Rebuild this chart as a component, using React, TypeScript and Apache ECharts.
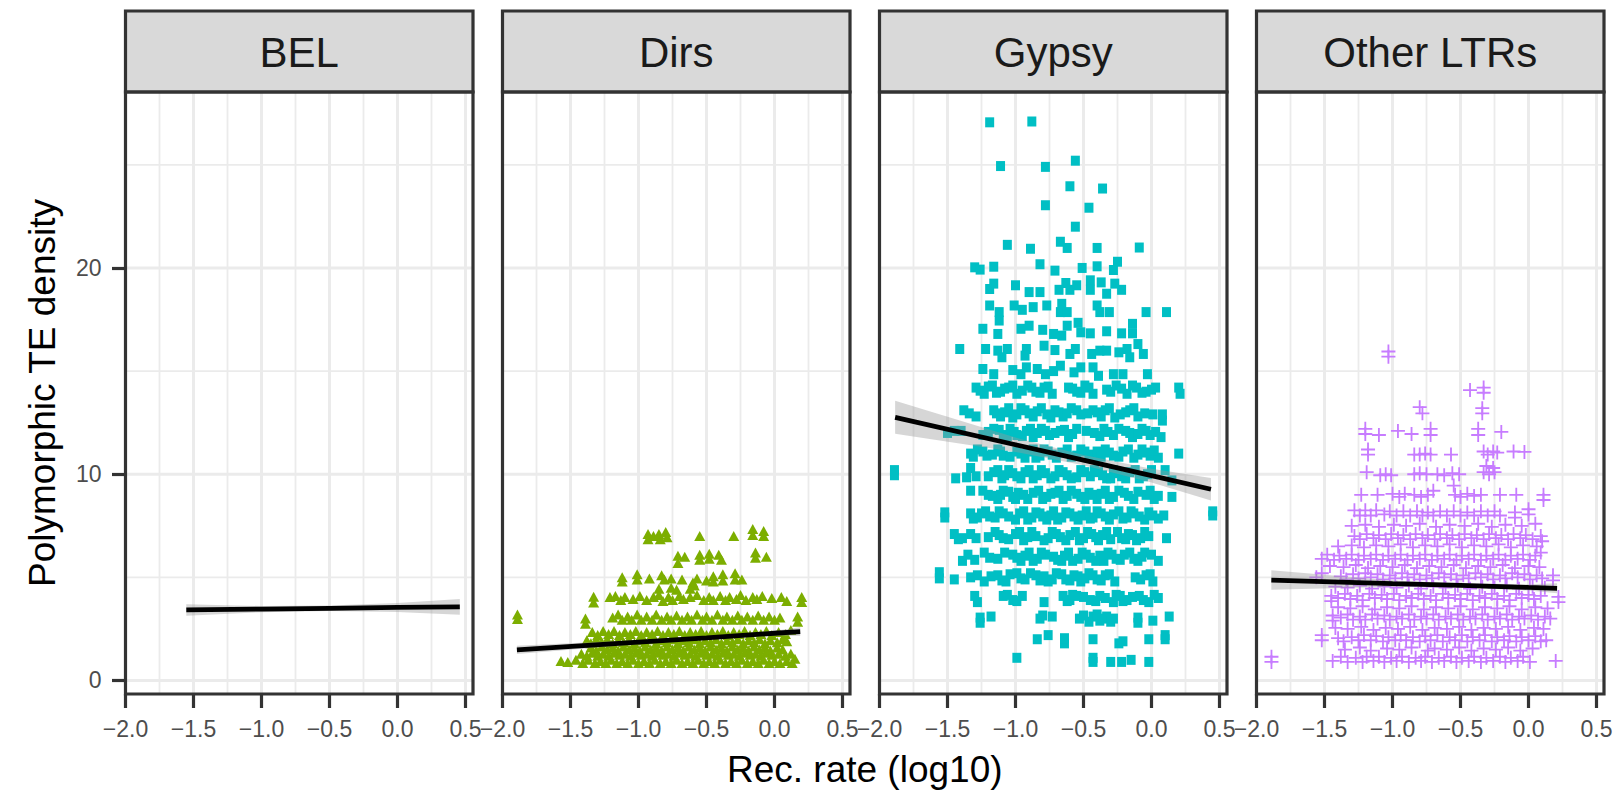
import React, { useEffect, useRef } from 'react';
import * as echarts from 'echarts';

const FONT = '"Liberation Sans", Arial, Helvetica, sans-serif';

const panelNames = ['BEL', 'Dirs', 'Gypsy', 'Other LTRs'];
const xMajor = [-2, -1.5, -1, -0.5, 0, 0.5];
const xMinor = [-1.75, -1.25, -0.75, -0.25, 0.25];
const yMajor = [0, 10, 20];
const yMinor = [5, 15, 25];
const xRange = [-2.0, 0.555];
const yRange = [-0.655, 28.53];

// fitted line rows: [x, fit, lower, upper]
const belFit = [[-1.553, 3.42, 3.14, 3.70], [-1.0, 3.46, 3.31, 3.61], [-0.5, 3.50, 3.37, 3.63], [0.0, 3.54, 3.32, 3.76], [0.458, 3.57, 3.19, 3.95]];
const dirsFit = [[-1.894, 1.48, 1.28, 1.68], [-1.0, 1.86, 1.76, 1.96], [-0.5, 2.07, 1.99, 2.15], [0.0, 2.29, 2.17, 2.41], [0.189, 2.37, 2.16, 2.58]];
const gypsyFit = [[-1.885, 12.76, 11.96, 13.56], [-1.0, 11.43, 11.08, 11.78], [-0.5, 10.68, 10.43, 10.93], [0.0, 9.93, 9.6, 10.26], [0.437, 9.27, 8.72, 9.82]];
const otherFit = [[-1.891, 4.87, 4.4, 5.34], [-1.0, 4.70, 4.55, 4.85], [-0.5, 4.61, 4.51, 4.71], [0.0, 4.51, 4.36, 4.66], [0.21, 4.47, 4.23, 4.71]];

const belPoints: number[][] = [];

const dirsPoints = [
  [-1.89, 3.2], [-1.89, 2.98],
  [-0.93, 7.1], [-0.93, 6.85], [-0.89, 7.0], [-0.85, 7.1], [-0.84, 6.85], [-0.8, 7.2], [-0.79, 6.95], [-0.55, 7.0], [-0.3, 7.0], [-0.16, 7.35], [-0.16, 7.05], [-0.08, 7.25], [-0.08, 7.0],
  [-0.71, 6.05], [-0.71, 5.7], [-0.66, 6.0], [-0.55, 6.1], [-0.55, 5.85], [-0.48, 6.15], [-0.48, 5.9], [-0.41, 6.1], [-0.39, 5.85], [-0.14, 6.2], [-0.14, 5.95], [-0.06, 6.0],
  [-1.12, 5.0], [-1.12, 4.8], [-1.01, 5.15], [-1.01, 4.9], [-0.92, 4.95], [-0.83, 5.1], [-0.81, 4.9], [-0.76, 4.95], [-0.68, 4.9], [-0.6, 4.75], [-0.59, 4.6], [-0.57, 4.95], [-0.5, 4.85], [-0.45, 5.05], [-0.45, 4.8], [-0.38, 5.15], [-0.38, 4.85], [-0.29, 5.2], [-0.29, 4.9], [-0.24, 4.9],
  [-0.85, 4.45], [-0.76, 4.5], [-0.72, 4.4], [-0.62, 4.45],
  [-1.33, 4.06], [-1.33, 3.78], [-1.21, 4.05], [-1.17, 4.1], [-1.13, 3.9], [-1.1, 4.05], [-1.04, 3.95], [-0.99, 4.1], [-0.94, 3.9], [-0.89, 4.05], [-0.85, 4.15], [-0.82, 3.85], [-0.78, 4.05], [-0.75, 3.9], [-0.7, 4.1], [-0.67, 3.95], [-0.62, 4.05], [-0.57, 4.15], [-0.52, 3.9], [-0.48, 4.05], [-0.45, 3.9], [-0.4, 4.1], [-0.36, 3.9], [-0.33, 4.05], [-0.28, 3.95], [-0.25, 4.15], [-0.21, 3.9], [-0.16, 4.05], [-0.13, 3.95], [-0.09, 4.1], [-0.02, 4.0], [0.05, 4.05], [0.09, 3.85], [0.2, 4.05], [0.2, 3.8],
  [-1.39, 3.0], [-1.39, 2.75], [-1.19, 3.05], [-1.15, 3.2], [-1.12, 2.95], [-1.08, 3.1], [-1.05, 2.95], [-1.01, 3.2], [-0.98, 2.95], [-0.94, 3.1], [-0.9, 2.95], [-0.87, 3.2], [-0.83, 2.95], [-0.79, 3.1], [-0.76, 2.95], [-0.72, 3.15], [-0.68, 2.95], [-0.64, 3.1], [-0.61, 2.95], [-0.57, 3.2], [-0.53, 2.95], [-0.5, 3.1], [-0.46, 2.95], [-0.42, 3.2], [-0.38, 2.95], [-0.35, 3.1], [-0.31, 2.95], [-0.27, 3.15], [-0.24, 2.95], [-0.2, 3.1], [-0.16, 2.95], [-0.12, 3.15], [-0.08, 2.95], [-0.04, 3.1], [0.0, 2.95], [0.04, 3.05], [0.17, 3.1], [0.17, 2.85],
  [-1.34, 2.35], [-1.3, 2.2], [-1.26, 2.4], [-1.22, 2.25], [-1.18, 2.4], [-1.14, 2.2], [-1.1, 2.35], [-1.06, 2.25], [-1.02, 2.4], [-0.98, 2.2], [-0.94, 2.35], [-0.9, 2.25], [-0.86, 2.4], [-0.82, 2.2], [-0.78, 2.35], [-0.74, 2.25], [-0.7, 2.4], [-0.66, 2.2], [-0.62, 2.35], [-0.58, 2.25], [-0.54, 2.4], [-0.5, 2.2], [-0.46, 2.35], [-0.42, 2.25], [-0.38, 2.4], [-0.34, 2.2], [-0.3, 2.35], [-0.26, 2.25], [-0.22, 2.4], [-0.18, 2.2], [-0.14, 2.35], [-0.1, 2.25], [-0.06, 2.4], [-0.02, 2.2], [0.03, 2.35], [0.08, 2.25], [0.12, 2.45],
  [-1.38, 1.95], [-1.35, 1.8], [-1.31, 2.0], [-1.27, 1.85], [-1.23, 2.0], [-1.19, 1.8], [-1.15, 1.95], [-1.11, 1.85], [-1.07, 2.0], [-1.03, 1.8], [-0.99, 1.95], [-0.95, 1.85], [-0.91, 2.0], [-0.87, 1.8], [-0.83, 1.95], [-0.79, 1.85], [-0.75, 2.0], [-0.71, 1.8], [-0.67, 1.95], [-0.63, 1.85], [-0.59, 2.0], [-0.55, 1.8], [-0.51, 1.95], [-0.47, 1.85], [-0.43, 2.0], [-0.39, 1.8], [-0.35, 1.95], [-0.31, 1.85], [-0.27, 2.0], [-0.23, 1.8], [-0.19, 1.95], [-0.15, 1.85], [-0.11, 2.0], [-0.07, 1.8], [-0.03, 1.95], [0.02, 1.85], [0.06, 2.0], [0.09, 1.9],
  [-1.35, 1.6], [-1.31, 1.45], [-1.27, 1.65], [-1.23, 1.5], [-1.19, 1.6], [-1.15, 1.45], [-1.11, 1.65], [-1.07, 1.5], [-1.03, 1.6], [-0.99, 1.45], [-0.95, 1.65], [-0.91, 1.5], [-0.87, 1.6], [-0.83, 1.45], [-0.79, 1.65], [-0.75, 1.5], [-0.71, 1.6], [-0.67, 1.45], [-0.63, 1.65], [-0.59, 1.5], [-0.55, 1.6], [-0.51, 1.45], [-0.47, 1.65], [-0.43, 1.5], [-0.39, 1.6], [-0.35, 1.45], [-0.31, 1.65], [-0.27, 1.5], [-0.23, 1.6], [-0.19, 1.45], [-0.15, 1.65], [-0.11, 1.5], [-0.07, 1.6], [-0.03, 1.45], [0.02, 1.6], [0.06, 1.5],
  [-1.42, 1.3], [-1.38, 1.2], [-1.34, 1.35], [-1.3, 1.2], [-1.26, 1.3], [-1.22, 1.2], [-1.18, 1.35], [-1.14, 1.25], [-1.1, 1.3], [-1.06, 1.2], [-1.02, 1.35], [-0.98, 1.25], [-0.94, 1.3], [-0.9, 1.2], [-0.86, 1.35], [-0.82, 1.25], [-0.78, 1.3], [-0.74, 1.2], [-0.7, 1.35], [-0.66, 1.25], [-0.62, 1.3], [-0.58, 1.2], [-0.54, 1.35], [-0.5, 1.25], [-0.46, 1.3], [-0.42, 1.2], [-0.38, 1.35], [-0.34, 1.25], [-0.3, 1.3], [-0.26, 1.2], [-0.22, 1.35], [-0.18, 1.25], [-0.14, 1.3], [-0.1, 1.2], [-0.06, 1.35], [-0.02, 1.25], [0.03, 1.3], [0.08, 1.2], [0.12, 1.3],
  [-1.57, 0.95], [-1.52, 0.9], [-1.46, 1.0], [-1.41, 0.85], [-1.37, 1.0], [-1.32, 0.85], [-1.28, 0.95], [-1.24, 0.85], [-1.2, 1.0], [-1.16, 0.85], [-1.12, 0.95], [-1.08, 0.85], [-1.04, 1.0], [-1.0, 0.85], [-0.96, 0.95], [-0.92, 0.85], [-0.88, 1.0], [-0.84, 0.85], [-0.8, 0.95], [-0.76, 0.85], [-0.72, 1.0], [-0.68, 0.85], [-0.64, 0.95], [-0.6, 0.85], [-0.56, 1.0], [-0.52, 0.85], [-0.48, 0.95], [-0.44, 0.85], [-0.4, 1.0], [-0.36, 0.85], [-0.32, 0.95], [-0.28, 0.85], [-0.24, 1.0], [-0.2, 0.85], [-0.16, 0.95], [-0.12, 0.85], [-0.08, 1.0], [-0.04, 0.85], [0.0, 0.95], [0.04, 0.85], [0.09, 0.95], [0.13, 0.85], [0.15, 1.05],
];

const gypsyPoints = [
  [-1.19, 27.06], [-0.88, 27.1], [-1.11, 24.94], [-0.78, 24.9], [-0.56, 25.2], [-0.6, 23.96], [-0.36, 23.85], [-0.78, 23.04], [-0.46, 22.92], [-0.56, 22.0],
  [-1.06, 21.12], [-0.89, 20.93], [-0.67, 21.27], [-0.62, 20.97], [-0.4, 20.97], [-0.09, 20.99],
  [-1.3, 20.03], [-1.26, 19.92], [-1.16, 20.06], [-0.82, 20.18], [-0.71, 19.87], [-0.51, 20.0], [-0.4, 20.08], [-0.28, 19.9], [-0.25, 20.3],
  [-1.19, 18.98], [-1.16, 19.24], [-1.0, 19.16], [-0.9, 18.83], [-0.82, 18.83], [-0.68, 18.94], [-0.63, 19.27], [-0.6, 18.94], [-0.55, 19.16], [-0.45, 19.4], [-0.45, 18.94], [-0.37, 19.3], [-0.33, 18.75], [-0.27, 19.24], [-0.22, 18.94],
  [-1.19, 18.18], [-1.12, 17.86], [-1.01, 18.18], [-0.95, 17.97], [-0.87, 18.1], [-0.77, 18.18], [-0.66, 18.26], [-0.67, 17.86], [-0.62, 17.86], [-0.4, 18.18], [-0.38, 17.86], [-0.31, 17.86], [-0.04, 17.86], [0.11, 17.86],
  [-1.12, 17.45], [-1.24, 17.05], [-1.13, 16.8], [-0.96, 17.05], [-0.9, 17.2], [-0.8, 17.0], [-0.72, 16.8], [-0.66, 16.72], [-0.62, 17.2], [-0.54, 17.34], [-0.52, 16.88], [-0.45, 16.83], [-0.33, 16.93], [-0.22, 16.83], [-0.14, 17.29], [-0.14, 16.83],
  [-1.41, 16.07], [-1.22, 16.07], [-1.13, 15.99], [-1.06, 16.07], [-1.1, 15.67], [-0.92, 16.07], [-0.93, 15.75], [-0.79, 16.23], [-0.71, 16.02], [-0.6, 15.83], [-0.56, 16.07], [-0.44, 15.83], [-0.38, 15.99], [-0.33, 15.99], [-0.24, 15.91], [-0.18, 16.07], [-0.16, 15.67], [-0.1, 16.31], [-0.06, 15.83],
  [-1.24, 15.1], [-1.16, 14.85], [-1.02, 15.05], [-0.96, 14.85], [-0.92, 15.18], [-0.84, 15.1], [-0.78, 14.85], [-0.72, 15.0], [-0.67, 15.26], [-0.57, 14.94], [-0.52, 15.18], [-0.43, 15.18], [-0.39, 14.77], [-0.28, 14.85], [-0.21, 14.85], [-0.03, 14.85],
  [-1.29, 14.2], [-1.23, 13.9], [-1.17, 14.3], [-1.11, 14.0], [-1.05, 14.2], [-0.99, 13.9], [-0.91, 14.3], [-0.85, 14.0], [-0.79, 14.2], [-0.73, 13.9], [-0.61, 14.2], [-0.55, 14.0], [-0.49, 14.3], [-0.43, 13.9], [-0.33, 14.1], [-0.26, 14.3], [-0.18, 13.9], [-0.11, 14.2], [-0.04, 14.0], [0.03, 14.2], [0.2, 14.2], [0.21, 13.9],
  [-1.26, 14.05], [-1.2, 14.25], [-1.14, 13.95], [-1.08, 14.15], [-1.02, 14.3], [-0.95, 14.05], [-0.88, 14.2], [-0.82, 13.95], [-0.76, 14.25], [-0.58, 14.15], [-0.52, 13.95], [-0.46, 14.2], [-0.3, 14.0], [-0.22, 14.15], [-0.14, 14.3], [-0.07, 13.95], [0.0, 14.1],
  [-1.38, 13.1], [-1.29, 12.8], [-1.16, 13.1], [-1.11, 12.8], [-1.05, 13.2], [-0.99, 12.9], [-0.93, 13.1], [-0.87, 12.8], [-0.81, 13.2], [-0.77, 12.9], [-0.71, 13.1], [-0.65, 12.8], [-0.59, 13.2], [-0.52, 12.9], [-0.43, 13.1], [-0.37, 12.8], [-0.31, 13.2], [-0.23, 12.9], [-0.16, 13.1], [-0.1, 12.8], [0.01, 12.9], [0.08, 12.6], [0.08, 12.9],
  [-1.34, 12.95], [-1.14, 12.95], [-1.08, 13.0], [-1.02, 12.75], [-0.96, 13.2], [-0.9, 12.95], [-0.84, 13.05], [-0.74, 12.75], [-0.68, 13.0], [-0.62, 12.95], [-0.55, 13.1], [-0.47, 12.95], [-0.4, 13.0], [-0.34, 13.1], [-0.27, 12.75], [-0.19, 13.0], [-0.13, 13.2], [-0.05, 12.95],
  [-1.5, 12.0], [-1.4, 12.1], [-1.24, 11.9], [-1.16, 12.2], [-1.09, 11.9], [-1.04, 12.2], [-0.99, 11.9], [-0.92, 12.1], [-0.87, 11.8], [-0.81, 12.2], [-0.75, 11.9], [-0.67, 12.1], [-0.61, 11.8], [-0.55, 12.2], [-0.42, 12.0], [-0.35, 12.2], [-0.28, 11.9], [-0.19, 12.1], [-0.14, 11.8], [-0.07, 12.2], [-0.01, 11.9], [0.07, 11.8],
  [-1.45, 12.1], [-1.2, 12.05], [-1.12, 12.15], [-1.06, 11.85], [-1.01, 12.05], [-0.95, 11.85], [-0.89, 12.2], [-0.84, 12.0], [-0.78, 12.1], [-0.71, 12.0], [-0.64, 12.15], [-0.58, 11.95], [-0.48, 12.1], [-0.38, 11.85], [-0.32, 12.05], [-0.24, 12.2], [-0.16, 12.0], [-0.1, 11.95], [-0.04, 12.1], [0.03, 12.05],
  [-1.33, 11.0], [-1.28, 11.2], [-1.21, 10.9], [-1.13, 11.2], [-1.09, 10.9], [-0.99, 11.1], [-0.93, 10.8], [-0.87, 11.2], [-0.82, 10.9], [-0.76, 11.1], [-0.7, 10.8], [-0.62, 11.2], [-0.55, 10.9], [-0.49, 11.1], [-0.43, 10.8], [-0.34, 11.2], [-0.28, 10.9], [-0.21, 11.1], [-0.13, 10.8], [-0.07, 11.2], [-0.01, 10.9], [0.05, 10.8], [0.2, 11.0],
  [-1.31, 10.85], [-1.24, 11.1], [-1.17, 10.95], [-1.11, 11.1], [-1.04, 10.85], [-0.96, 11.0], [-0.9, 11.1], [-0.85, 10.8], [-0.79, 11.2], [-0.73, 10.95], [-0.66, 11.05], [-0.59, 10.85], [-0.52, 11.2], [-0.46, 10.95], [-0.4, 11.1], [-0.37, 10.85], [-0.31, 11.05], [-0.24, 10.85], [-0.17, 11.2], [-0.1, 10.95], [-0.04, 11.05], [0.02, 11.15],
  [-1.89, 10.2], [-1.89, 9.95], [-1.44, 9.8], [-1.33, 10.3], [-1.29, 9.9], [-1.16, 10.1], [-1.1, 9.8], [-1.05, 10.2], [-0.99, 9.9], [-0.93, 10.1], [-0.87, 9.8], [-0.81, 10.2], [-0.71, 9.9], [-0.65, 10.1], [-0.59, 9.8], [-0.52, 10.2], [-0.45, 9.9], [-0.39, 10.1], [-0.33, 9.8], [-0.28, 10.2], [-0.22, 9.9], [-0.16, 10.1], [-0.09, 9.8], [-0.03, 10.0], [0.1, 10.2], [0.15, 9.7],
  [-1.36, 9.85], [-1.2, 9.9], [-1.13, 10.2], [-1.08, 9.95], [-1.02, 10.05], [-0.96, 9.8], [-0.9, 10.2], [-0.84, 9.95], [-0.78, 10.05], [-0.74, 9.8], [-0.68, 10.2], [-0.62, 9.95], [-0.55, 9.85], [-0.49, 10.1], [-0.42, 10.2], [-0.36, 9.95], [-0.3, 9.8], [-0.25, 10.05], [-0.19, 9.8], [-0.12, 10.2], [-0.06, 9.9], [0.0, 10.2],
  [-1.33, 9.2], [-1.2, 9.0], [-1.13, 8.8], [-1.09, 9.2], [-1.02, 8.9], [-0.98, 9.1], [-0.91, 8.8], [-0.83, 9.2], [-0.77, 8.9], [-0.71, 9.1], [-0.65, 8.8], [-0.59, 9.2], [-0.52, 8.9], [-0.46, 9.1], [-0.4, 8.8], [-0.34, 9.2], [-0.28, 8.9], [-0.2, 9.1], [-0.13, 8.8], [-0.04, 9.0], [0.02, 8.8], [0.15, 8.9],
  [-1.24, 9.2], [-1.17, 8.95], [-1.11, 9.0], [-1.05, 9.15], [-1.0, 8.8], [-0.94, 9.0], [-0.87, 9.1], [-0.8, 8.8], [-0.74, 9.05], [-0.68, 9.2], [-0.62, 8.95], [-0.55, 9.05], [-0.49, 8.8], [-0.43, 9.0], [-0.37, 9.05], [-0.31, 8.8], [-0.24, 9.2], [-0.17, 8.95], [-0.1, 9.15], [-0.01, 9.2], [0.05, 8.95],
  [-1.52, 7.9], [-1.52, 8.15], [-1.33, 8.1], [-1.28, 7.9], [-1.22, 8.2], [-1.15, 7.9], [-1.09, 8.1], [-1.0, 7.8], [-0.94, 8.2], [-0.88, 7.9], [-0.82, 8.1], [-0.77, 7.8], [-0.72, 8.2], [-0.66, 7.9], [-0.6, 8.1], [-0.54, 7.8], [-0.48, 8.2], [-0.43, 7.9], [-0.37, 8.1], [-0.31, 7.8], [-0.24, 8.2], [-0.18, 7.9], [-0.13, 8.1], [-0.05, 7.8], [0.01, 8.0], [0.09, 8.0], [0.45, 8.0], [0.45, 8.2],
  [-1.31, 7.85], [-1.25, 8.1], [-1.19, 7.95], [-1.12, 8.2], [-1.05, 7.95], [-0.97, 8.1], [-0.91, 7.8], [-0.85, 8.15], [-0.8, 7.95], [-0.74, 8.0], [-0.69, 7.8], [-0.63, 8.15], [-0.57, 7.95], [-0.51, 8.0], [-0.45, 7.85], [-0.4, 8.2], [-0.34, 7.95], [-0.28, 8.05], [-0.21, 7.85], [-0.15, 8.2], [-0.09, 7.95], [-0.02, 8.15], [0.05, 7.85],
  [-1.45, 7.1], [-1.39, 6.9], [-1.29, 6.9], [-1.15, 7.2], [-1.09, 6.9], [-1.0, 7.1], [-0.94, 6.8], [-0.88, 7.2], [-0.76, 6.9], [-0.7, 7.1], [-0.63, 6.8], [-0.56, 7.2], [-0.5, 6.9], [-0.44, 7.1], [-0.39, 6.8], [-0.33, 7.2], [-0.22, 6.9], [-0.17, 7.1], [-0.11, 6.8], [-0.05, 7.2], [0.11, 6.9],
  [-1.42, 6.85], [-1.33, 7.1], [-1.2, 6.95], [-1.12, 7.05], [-1.05, 6.85], [-0.97, 7.2], [-0.91, 6.95], [-0.85, 7.0], [-0.79, 6.8], [-0.73, 7.2], [-0.67, 6.95], [-0.6, 7.05], [-0.53, 6.8], [-0.47, 7.2], [-0.41, 6.95], [-0.36, 7.05], [-0.3, 6.85], [-0.25, 7.2], [-0.19, 6.85], [-0.14, 7.05], [-0.08, 6.9], [-0.02, 7.0],
  [-1.39, 5.8], [-1.35, 6.1], [-1.23, 6.2], [-1.13, 5.9], [-1.02, 6.1], [-0.96, 5.8], [-0.9, 6.2], [-0.84, 5.9], [-0.78, 6.1], [-0.66, 5.8], [-0.61, 6.2], [-0.54, 5.9], [-0.48, 6.1], [-0.41, 5.8], [-0.32, 6.2], [-0.26, 5.9], [-0.2, 6.1], [-0.1, 5.8], [-0.05, 6.2], [0.05, 5.8],
  [-1.3, 5.85], [-1.19, 5.95], [-1.08, 6.2], [-0.99, 5.95], [-0.93, 6.05], [-0.87, 5.8], [-0.81, 6.2], [-0.72, 6.0], [-0.69, 5.85], [-0.64, 6.05], [-0.58, 5.8], [-0.51, 6.2], [-0.45, 5.95], [-0.38, 6.05], [-0.35, 5.8], [-0.29, 6.1], [-0.23, 5.85], [-0.16, 6.2], [-0.13, 5.9], [-0.07, 6.0], [0.0, 6.1],
  [-1.56, 5.25], [-1.56, 4.95], [-1.45, 4.9], [-1.33, 5.0], [-1.23, 4.8], [-1.13, 5.1], [-1.07, 4.8], [-0.99, 5.2], [-0.93, 4.9], [-0.85, 5.1], [-0.76, 4.8], [-0.7, 5.2], [-0.63, 4.9], [-0.57, 5.1], [-0.52, 4.8], [-0.46, 5.2], [-0.4, 4.9], [-0.34, 5.1], [-0.27, 4.8], [-0.12, 5.0], [-0.04, 5.1], [0.01, 4.8],
  [-1.28, 5.1], [-1.18, 5.05], [-1.1, 4.85], [-1.04, 5.15], [-0.96, 4.95], [-0.89, 5.2], [-0.82, 4.85], [-0.79, 5.05], [-0.73, 4.9], [-0.66, 5.15], [-0.6, 4.85], [-0.54, 5.05], [-0.49, 4.95], [-0.43, 5.1], [-0.37, 4.85], [-0.31, 5.15], [-0.08, 4.9], [-0.01, 5.15],
  [-1.3, 4.1], [-1.28, 3.8], [-1.09, 4.1], [-1.02, 3.9], [-0.95, 4.1], [-0.79, 3.8], [-0.65, 4.1], [-0.6, 3.9], [-0.55, 4.1], [-0.45, 3.9], [-0.38, 4.1], [-0.28, 3.8], [-0.23, 4.1], [-0.18, 3.9], [-0.09, 4.1], [-0.02, 3.8], [0.05, 4.0],
  [-1.06, 4.15], [-0.99, 3.85], [-0.62, 3.85], [-0.58, 4.15], [-0.5, 4.05], [-0.41, 3.85], [-0.34, 4.0], [-0.26, 4.15], [-0.21, 3.85], [-0.14, 4.05], [-0.06, 3.9], [0.02, 4.15],
  [-1.26, 2.8], [-1.26, 3.05], [-1.18, 3.1], [-0.82, 3.0], [-0.73, 3.1], [-0.53, 3.0], [-0.43, 3.1], [-0.38, 2.9], [-0.33, 3.1], [-0.28, 3.0], [-0.1, 2.8], [-0.1, 3.05], [0.01, 2.9], [0.13, 3.1],
  [-0.8, 3.15], [-0.5, 3.15], [-0.46, 2.85], [-0.4, 3.2], [-0.36, 3.0], [-0.3, 2.85],
  [-0.84, 2.0], [-0.76, 2.2], [-0.64, 1.8], [-0.64, 2.05], [-0.43, 2.0], [-0.24, 1.8], [-0.21, 1.9], [-0.02, 2.0], [0.1, 2.0], [0.1, 2.2],
  [-0.99, 1.1], [-0.43, 0.9], [-0.43, 1.1], [-0.3, 0.9], [-0.22, 0.9], [-0.15, 1.0], [-0.02, 0.9],
];

const otherPoints = [
  [-1.03, 15.95], [-1.03, 15.7],
  [-0.43, 14.08], [-0.33, 14.2], [-0.33, 13.95],
  [-0.8, 13.25], [-0.78, 12.95], [-0.34, 12.95], [-0.34, 13.2],
  [-1.2, 12.2], [-1.2, 11.95], [-1.1, 11.9], [-0.96, 12.1], [-0.86, 11.95], [-0.72, 12.2], [-0.72, 11.9], [-0.37, 12.2], [-0.37, 11.9], [-0.2, 12.05],
  [-1.18, 11.2], [-1.18, 10.95], [-0.84, 10.95], [-0.8, 10.95], [-0.76, 11.0], [-0.72, 10.95], [-0.57, 10.95], [-0.33, 11.1], [-0.3, 10.95], [-0.26, 11.1], [-0.23, 11.05], [-0.11, 11.1], [-0.03, 11.08],
  [-0.31, 10.4], [-0.26, 10.3],
  [-1.19, 10.1], [-1.09, 9.95], [-1.05, 10.0], [-1.01, 9.95], [-0.84, 10.0], [-0.8, 10.05], [-0.75, 10.0], [-0.67, 10.0], [-0.62, 9.95], [-0.56, 10.05], [-0.51, 10.0], [-0.33, 10.1], [-0.29, 10.0], [-0.25, 10.1], [-0.55, 9.45],
  [-1.23, 9.0], [-1.11, 9.0], [-1.0, 9.05], [-0.95, 8.9], [-0.91, 9.05], [-0.84, 9.0], [-0.79, 8.9], [-0.74, 9.0], [-0.7, 9.2], [-0.54, 9.0], [-0.5, 8.9], [-0.45, 9.05], [-0.4, 8.95], [-0.35, 9.0], [-0.21, 9.0], [-0.09, 9.0], [0.11, 9.0], [0.11, 8.75],
  [-1.28, 8.25], [-1.24, 8.0], [-1.2, 8.25], [-1.16, 8.0], [-1.12, 8.25], [-1.06, 8.05], [-1.02, 8.2], [-0.97, 8.0], [-0.92, 8.2], [-0.87, 8.0], [-0.82, 8.2], [-0.78, 8.0], [-0.74, 8.15], [-0.7, 8.0], [-0.65, 8.2], [-0.6, 8.0], [-0.55, 8.2], [-0.5, 8.0], [-0.45, 8.15], [-0.4, 8.0], [-0.35, 8.2], [-0.3, 8.0], [-0.25, 8.2], [-0.21, 8.0], [-0.1, 7.9], [-0.1, 8.15], [0.0, 8.3], [0.0, 8.05],
  [-1.3, 7.5], [-1.2, 7.55], [-1.1, 7.45], [-0.99, 7.55], [-0.9, 7.5], [-0.8, 7.6], [-0.68, 7.45], [-0.58, 7.55], [-0.47, 7.5], [-0.37, 7.6], [-0.27, 7.45], [-0.17, 7.55], [-0.05, 7.5], [0.05, 7.6],
  [-1.28, 7.0], [-1.24, 6.85], [-1.19, 7.1], [-1.14, 6.9], [-1.1, 7.05], [-1.05, 6.85], [-1.01, 7.1], [-0.96, 6.9], [-0.92, 7.05], [-0.87, 6.85], [-0.83, 7.1], [-0.78, 6.9], [-0.74, 7.05], [-0.69, 6.85], [-0.65, 7.1], [-0.6, 6.9], [-0.56, 7.05], [-0.51, 6.85], [-0.47, 7.1], [-0.42, 6.9], [-0.38, 7.05], [-0.33, 6.85], [-0.29, 7.1], [-0.24, 6.9], [-0.2, 7.05], [-0.15, 6.85], [-0.11, 7.1], [-0.06, 6.9], [-0.02, 7.05], [0.03, 6.85], [0.09, 7.0], [0.1, 6.75],
  [-1.4, 6.5], [-1.3, 6.55], [-1.21, 6.45], [-1.12, 6.55], [-1.03, 6.5], [-0.94, 6.6], [-0.85, 6.45], [-0.76, 6.55], [-0.67, 6.5], [-0.58, 6.6], [-0.49, 6.45], [-0.4, 6.55], [-0.31, 6.5], [-0.22, 6.6], [-0.13, 6.45], [-0.04, 6.55], [0.06, 6.5],
  [-1.52, 5.9], [-1.48, 6.1], [-1.43, 5.85], [-1.39, 6.05], [-1.34, 5.9], [-1.3, 6.1], [-1.25, 5.85], [-1.21, 6.05], [-1.16, 5.9], [-1.12, 6.1], [-1.07, 5.85], [-1.03, 6.05], [-0.98, 5.9], [-0.94, 6.1], [-0.89, 5.85], [-0.85, 6.05], [-0.8, 5.9], [-0.76, 6.1], [-0.71, 5.85], [-0.67, 6.05], [-0.62, 5.9], [-0.58, 6.1], [-0.53, 5.85], [-0.49, 6.05], [-0.44, 5.9], [-0.4, 6.1], [-0.35, 5.85], [-0.31, 6.05], [-0.26, 5.9], [-0.22, 6.1], [-0.17, 5.85], [-0.13, 6.05], [-0.08, 5.9], [-0.04, 6.1], [0.01, 5.85], [0.05, 6.05], [0.09, 6.2],
  [-1.46, 5.55], [-1.36, 5.5], [-1.27, 5.6], [-1.18, 5.45], [-1.09, 5.55], [-1.0, 5.5], [-0.91, 5.6], [-0.82, 5.45], [-0.73, 5.55], [-0.64, 5.5], [-0.55, 5.6], [-0.46, 5.45], [-0.37, 5.55], [-0.28, 5.5], [-0.19, 5.6], [-0.1, 5.45], [0.0, 5.55], [0.08, 5.5],
  [-1.56, 5.0], [-1.52, 5.2], [-1.38, 5.05], [-1.34, 4.9], [-1.29, 5.15], [-1.25, 4.95], [-1.2, 5.2], [-1.16, 5.0], [-1.11, 5.15], [-1.07, 4.9], [-1.02, 5.1], [-0.98, 4.95], [-0.93, 5.2], [-0.89, 5.0], [-0.84, 5.15], [-0.8, 4.9], [-0.75, 5.1], [-0.71, 4.95], [-0.66, 5.2], [-0.62, 5.0], [-0.57, 5.15], [-0.53, 4.9], [-0.48, 5.1], [-0.44, 4.95], [-0.39, 5.2], [-0.35, 5.0], [-0.3, 5.15], [-0.26, 4.9], [-0.21, 5.1], [-0.17, 4.95], [-0.12, 5.2], [-0.08, 5.0], [-0.03, 5.15], [0.01, 4.9], [0.06, 5.1], [0.1, 4.95], [0.18, 5.1], [0.18, 4.85],
  [-1.42, 4.55], [-1.33, 4.5], [-1.24, 4.6], [-1.15, 4.45], [-1.06, 4.55], [-0.97, 4.5], [-0.88, 4.6], [-0.79, 4.45], [-0.7, 4.55], [-0.61, 4.5], [-0.52, 4.6], [-0.43, 4.45], [-0.34, 4.55], [-0.25, 4.5], [-0.16, 4.6], [-0.07, 4.45], [0.03, 4.55], [0.12, 4.5],
  [-1.45, 4.1], [-1.45, 3.85], [-1.4, 4.0], [-1.35, 4.2], [-1.31, 3.95], [-1.26, 4.1], [-1.22, 3.9], [-1.17, 4.2], [-1.13, 4.0], [-1.08, 4.15], [-1.04, 3.95], [-0.99, 4.2], [-0.95, 3.9], [-0.9, 4.1], [-0.86, 4.0], [-0.81, 4.2], [-0.77, 3.95], [-0.72, 4.1], [-0.68, 3.9], [-0.63, 4.2], [-0.59, 4.0], [-0.54, 4.15], [-0.5, 3.95], [-0.45, 4.2], [-0.41, 3.9], [-0.36, 4.1], [-0.32, 4.0], [-0.27, 4.2], [-0.23, 3.95], [-0.18, 4.1], [-0.14, 3.9], [-0.09, 4.2], [-0.05, 4.0], [0.0, 4.15], [0.04, 3.95], [0.09, 4.1], [0.22, 4.05], [0.22, 3.8],
  [-1.4, 3.55], [-1.31, 3.5], [-1.22, 3.6], [-1.13, 3.45], [-1.04, 3.55], [-0.95, 3.5], [-0.86, 3.6], [-0.77, 3.45], [-0.68, 3.55], [-0.59, 3.5], [-0.5, 3.6], [-0.41, 3.45], [-0.32, 3.55], [-0.23, 3.5], [-0.14, 3.6], [-0.05, 3.45], [0.05, 3.55], [0.14, 3.5],
  [-1.44, 2.9], [-1.44, 3.15], [-1.38, 3.05], [-1.33, 3.2], [-1.29, 2.95], [-1.24, 3.1], [-1.2, 2.95], [-1.15, 3.2], [-1.11, 3.0], [-1.06, 3.15], [-1.02, 2.95], [-0.97, 3.1], [-0.93, 3.0], [-0.88, 3.2], [-0.84, 2.95], [-0.79, 3.1], [-0.75, 3.0], [-0.7, 3.2], [-0.66, 2.95], [-0.61, 3.1], [-0.57, 3.0], [-0.52, 3.2], [-0.48, 2.95], [-0.43, 3.1], [-0.39, 3.0], [-0.34, 3.2], [-0.3, 2.95], [-0.25, 3.1], [-0.21, 3.0], [-0.16, 3.2], [-0.12, 2.95], [-0.07, 3.1], [-0.03, 3.0], [0.02, 3.15], [0.07, 2.95], [0.12, 3.1], [0.16, 3.0],
  [-1.42, 2.55], [-1.33, 2.5], [-1.23, 2.6], [-1.14, 2.45], [-1.05, 2.55], [-0.96, 2.5], [-0.87, 2.6], [-0.78, 2.45], [-0.69, 2.55], [-0.6, 2.5], [-0.51, 2.6], [-0.42, 2.45], [-0.33, 2.55], [-0.24, 2.5], [-0.15, 2.6], [-0.06, 2.45], [0.04, 2.55], [0.11, 2.5],
  [-1.52, 2.2], [-1.52, 1.95], [-1.4, 2.05], [-1.36, 1.9], [-1.3, 2.1], [-1.25, 1.95], [-1.21, 2.2], [-1.16, 1.95], [-1.12, 2.15], [-1.07, 1.9], [-1.03, 2.1], [-0.98, 1.95], [-0.94, 2.2], [-0.9, 1.95], [-0.85, 2.1], [-0.8, 1.9], [-0.76, 2.15], [-0.72, 1.95], [-0.67, 2.2], [-0.63, 1.9], [-0.58, 2.1], [-0.54, 1.95], [-0.49, 2.2], [-0.45, 1.9], [-0.41, 2.1], [-0.36, 1.95], [-0.32, 2.2], [-0.27, 1.9], [-0.23, 2.1], [-0.18, 1.95], [-0.14, 2.15], [-0.09, 1.9], [-0.05, 2.1], [0.0, 1.95], [0.05, 2.15], [0.09, 1.9], [0.13, 1.95],
  [-1.35, 1.5], [-1.24, 1.6], [-1.16, 1.45], [-1.04, 1.55], [-0.95, 1.5], [-0.86, 1.6], [-0.74, 1.45], [-0.69, 1.55], [-0.6, 1.5], [-0.51, 1.6], [-0.42, 1.45], [-0.33, 1.55], [-0.24, 1.5], [-0.15, 1.6], [-0.06, 1.45], [0.03, 1.55],
  [-1.89, 0.9], [-1.89, 1.15], [-1.44, 0.95], [-1.38, 1.15], [-1.33, 0.9], [-1.27, 1.1], [-1.22, 0.9], [-1.19, 1.15], [-1.14, 0.95], [-1.1, 1.15], [-1.06, 0.9], [-1.01, 1.1], [-0.97, 0.95], [-0.93, 1.15], [-0.88, 0.9], [-0.83, 1.1], [-0.79, 0.95], [-0.76, 1.15], [-0.71, 0.9], [-0.66, 1.1], [-0.62, 0.95], [-0.57, 1.15], [-0.53, 0.9], [-0.49, 1.1], [-0.44, 0.95], [-0.4, 1.15], [-0.35, 0.9], [-0.31, 1.1], [-0.26, 0.95], [-0.21, 1.15], [-0.17, 0.9], [-0.13, 1.1], [-0.08, 0.95], [-0.04, 1.15], [0.01, 0.9], [0.2, 0.95],
];

const panelPoints = [belPoints, dirsPoints, gypsyPoints, otherPoints];
const panelFits = [belFit, dirsFit, gypsyFit, otherFit];
const panelColors = ['#F8766D', '#7CAE00', '#00BFC4', '#C77CFF'];
const PLUS = 'path://M4.35,0H5.65V4.35H10V5.65H5.65V10H4.35V5.65H0V4.35H4.35Z';
const panelSymbols: any[] = ['circle', 'triangle', 'rect', PLUS];
const panelSymbolSizes: any[] = [8, [11, 10], [9, 10], 14];

// layout (px)
const PANEL_LEFT = 125.5;
const PANEL_STEP = 377;
const PANEL_W = 347.5;
const PANEL_TOP = 92;
const PANEL_H = 602;
const STRIP_TOP = 11;

const GRID_COLOR = '#EBEBEB';
const MAJOR_W = 3.0;
const MINOR_W = 1.8;

const fmtX = (v: number) => (v < 0 ? '\u2212' : '') + Math.abs(v).toFixed(1);

export default function App() {
  const ref = useRef<HTMLDivElement>(null);
  useEffect(() => {
    document.body.style.margin = '0';
    if (!ref.current) return;
    const chart = echarts.init(ref.current, null, { renderer: 'svg' });

    const grids: any[] = [];
    const xAxes: any[] = [];
    const yAxes: any[] = [];
    const series: any[] = [];
    const graphics: any[] = [];

    panelNames.forEach((name, i) => {
      const left = PANEL_LEFT + i * PANEL_STEP;
      grids.push({ left, top: PANEL_TOP, width: PANEL_W, height: PANEL_H, containLabel: false });
      xAxes.push({
        type: 'value', gridIndex: i, min: xRange[0], max: xRange[1], position: 'bottom',
        axisLine: { show: false, onZero: false }, splitLine: { show: false },
        axisTick: { show: true, length: 14, customValues: xMajor, lineStyle: { color: '#333333', width: 3.2 } },
        axisLabel: { show: true, customValues: xMajor, formatter: fmtX, color: '#4D4D4D', fontSize: 23, fontFamily: FONT, margin: 23 },
      });
      yAxes.push({
        type: 'value', gridIndex: i, min: yRange[0], max: yRange[1], position: 'left',
        axisLine: { show: false, onZero: false }, splitLine: { show: false },
        axisTick: { show: i === 0, length: 13.5, customValues: yMajor, lineStyle: { color: '#333333', width: 3.2 } },
        axisLabel: { show: i === 0, customValues: yMajor, formatter: (v: number) => String(v), color: '#4D4D4D', fontSize: 23, fontFamily: FONT, margin: 24 },
      });

      // panel grid lines, positioned through the axes' scales
      series.push({
        type: 'custom', xAxisIndex: i, yAxisIndex: i, silent: true, z: 1,
        data: [[xRange[0], yRange[0]]],
        renderItem: (params: any, api: any) => {
          const cs = params.coordSys;
          const children: any[] = [];
          const vline = (v: number, w: number) => {
            const px = api.coord([v, yRange[0]])[0];
            children.push({ type: 'line', shape: { x1: px, y1: cs.y, x2: px, y2: cs.y + cs.height }, style: { stroke: GRID_COLOR, lineWidth: w } });
          };
          const hline = (v: number, w: number) => {
            const py = api.coord([xRange[0], v])[1];
            children.push({ type: 'line', shape: { x1: cs.x, y1: py, x2: cs.x + cs.width, y2: py }, style: { stroke: GRID_COLOR, lineWidth: w } });
          };
          xMinor.forEach((v) => vline(v, MINOR_W));
          yMinor.forEach((v) => hline(v, MINOR_W));
          xMajor.forEach((v) => vline(v, MAJOR_W));
          yMajor.forEach((v) => hline(v, MAJOR_W));
          return { type: 'group', children };
        },
      });

      if (panelPoints[i].length) {
        series.push({
          type: 'scatter', xAxisIndex: i, yAxisIndex: i, data: panelPoints[i],
          symbol: panelSymbols[i], symbolSize: panelSymbolSizes[i],
          itemStyle: { color: panelColors[i], opacity: 1 }, silent: true, z: 10,
        });
      }

      const fit = panelFits[i];
      series.push({
        type: 'custom', xAxisIndex: i, yAxisIndex: i, silent: true, z: 11,
        data: [[fit[0][0], fit[0][1]]],
        renderItem: (_p: any, api: any) => {
          const pts: number[][] = [];
          fit.forEach((r) => pts.push(api.coord([r[0], r[3]])));
          for (let k = fit.length - 1; k >= 0; k--) pts.push(api.coord([fit[k][0], fit[k][2]]));
          return { type: 'polygon', shape: { points: pts }, style: { fill: 'rgba(153,153,153,0.4)', stroke: 'none' } };
        },
      });
      series.push({
        type: 'line', xAxisIndex: i, yAxisIndex: i, silent: true, z: 12,
        data: fit.map((r) => [r[0], r[1]]), showSymbol: false, symbol: 'none',
        lineStyle: { color: '#000000', width: 4.8, cap: 'butt' },
      });

      graphics.push({
        type: 'rect', silent: true, z: 100,
        shape: { x: left, y: STRIP_TOP, width: PANEL_W, height: PANEL_TOP - STRIP_TOP },
        style: { fill: '#D9D9D9', stroke: '#333333', lineWidth: 3.2 },
      });
      graphics.push({
        type: 'text', silent: true, z: 101, x: left + PANEL_W / 2, y: (STRIP_TOP + PANEL_TOP) / 2 + 0.5,
        style: { text: name, fontSize: 42, fontFamily: FONT, fill: '#1A1A1A', align: 'center', verticalAlign: 'middle', textAlign: 'center', textVerticalAlign: 'middle' },
      });
      graphics.push({
        type: 'rect', silent: true, z: 100,
        shape: { x: left, y: PANEL_TOP, width: PANEL_W, height: PANEL_H },
        style: { fill: 'none', stroke: '#333333', lineWidth: 3.2 },
      });
    });

    const plotCenterX = (PANEL_LEFT + PANEL_LEFT + 3 * PANEL_STEP + PANEL_W) / 2;
    graphics.push({
      type: 'text', silent: true, z: 101, x: plotCenterX, y: 769,
      style: { text: 'Rec. rate (log10)', fontSize: 37, fontFamily: FONT, fill: '#000000', align: 'center', verticalAlign: 'middle', textAlign: 'center', textVerticalAlign: 'middle' },
    });
    graphics.push({
      type: 'text', silent: true, z: 101, x: 42, y: PANEL_TOP + PANEL_H / 2, rotation: Math.PI / 2,
      style: { text: 'Polymorphic TE density', fontSize: 37, fontFamily: FONT, fill: '#000000', align: 'center', verticalAlign: 'middle', textAlign: 'center', textVerticalAlign: 'middle' },
    });

    chart.setOption({
      animation: false,
      backgroundColor: '#FFFFFF',
      textStyle: { fontFamily: FONT },
      grid: grids,
      xAxis: xAxes,
      yAxis: yAxes,
      series,
      graphic: { elements: graphics },
    });
    return () => chart.dispose();
  }, []);
  return <div ref={ref} style={{ width: 1618, height: 792 }} />;
}
